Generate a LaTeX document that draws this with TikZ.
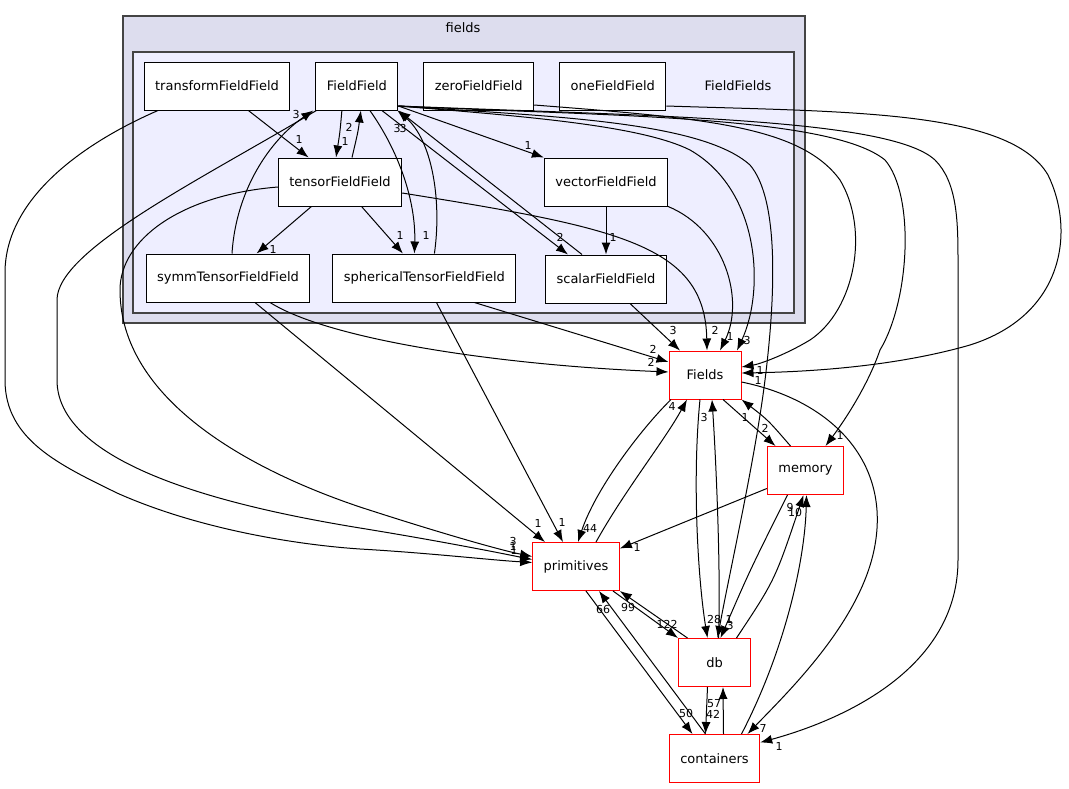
\documentclass[tikz,border=0pt]{standalone}
\usepackage{fontspec}
\setmainfont{DejaVu Sans}
\usetikzlibrary{positioning}
\usetikzlibrary{arrows.meta}
\definecolor{grupoexterior}{HTML}{DDDDEE}
\definecolor{grupointerior}{HTML}{EEEEFF}
\definecolor{bordegrupo}{HTML}{444444}
\tikzset{
 carpeta/.style={
 rectangle,
 draw=black, line width=1pt, fill=white,
 inner xsep=11pt,
 minimum width=72pt,
 minimum height=48pt,
 font=\fontsize{13}{15}\selectfont},
 externa/.style={
 carpeta,
 draw=red},
 grupo/.style={
 draw=bordegrupo, line width=1.3pt},
 dep/.style={
 line width=1pt,
 -{Latex[length=12pt,width=9pt]}},
 cifra/.style={
 font=\fontsize{11}{13}\selectfont,
 inner sep=0pt}
}

\begin{document}
\begin{tikzpicture}[x=1pt,y=-1pt]
 \useasboundingbox (0,0) rectangle (1069,788);

 \filldraw[grupo, fill=grupoexterior] (123,16) rectangle (805,323);
 \filldraw[grupo, fill=grupointerior] (133,52) rectangle (794,313);
 \node[font=\fontsize{13}{15}\selectfont] (fieldsname) at (463,28) {fields};
 \node[font=\fontsize{13}{15}\selectfont] (groupname) at (738,86) {FieldFields};

 \node[carpeta] (trans) at (217,86) {transformFieldField};
 \node[carpeta, right = 25pt of trans] (FF) {FieldField};
 \node[carpeta, right = 25pt of FF] (zero) {zeroFieldField};
 \node[carpeta, right = 25pt of zero] (one) {oneFieldField};

 \node[carpeta] (tensor) at (340,182) {tensorFieldField};
 \node[carpeta] (vector) at (606,182) {vectorFieldField};

 \node[carpeta] (symm) at (228,278) {symmTensorFieldField};
 \node[carpeta, right = 22pt of symm] (sph) {sphericalTensorFieldField};
 \node[carpeta, below = 48pt of vector] (scalar) {scalarFieldField};

 \node[externa] (Fields) at (705,375) {Fields};
 \node[externa] (memory) at (805.5,470.5) {memory};
 \node[externa] (prim) at (576,566.5) {primitives};
 \node[externa] (db) at (714.5,662.5) {db};
 \node[externa, below = 47pt of db] (cont) {containers};

 % inside FieldFields
 \draw[dep] (trans) -- (tensor) node[cifra] (n1) at (299,139) {1};
 \draw[dep] ([xshift=-15pt]FF.south) .. controls (340,132) .. ([xshift=-4pt]tensor.north) node[cifra] (n2) at (345,141) {1};
 \draw[dep] ([xshift=12pt]tensor.north) .. controls (358,132) .. ([xshift=4pt]FF.south) node[cifra] (n3) at (349,127) {2};
 \draw[dep] (tensor) -- (symm) node[cifra] (n4) at (273,249) {1};
 \draw[dep] (tensor) -- (sph) node[cifra] (n5) at (400,235) {1};
 \draw[dep] ([xshift=13pt]FF.south) .. controls (398,150) and (416,200) .. ([xshift=-10pt]sph.north) node[cifra] (n6) at (426,235) {1};
 \draw[dep] ([xshift=10pt]sph.north) .. controls (442,200) and (432,140) .. ([xshift=-1pt]FF.south east) node[cifra] (n7) at (397,128) {3};
 \draw[dep] ([xshift=4pt]symm.north) .. controls (236,190) and (270,140) .. ([xshift=-2pt]FF.south west) node[cifra] (n8) at (296,114) {3};
 \draw[dep] ([xshift=25pt]FF.south) -- ([xshift=-38pt]scalar.north) node[cifra] (n9) at (560,237) {2};
 \draw[dep] ([xshift=-24pt]scalar.north) -- (FF.south east) node[cifra] (n10) at (403,128) {3};
 \draw[dep] ([yshift=-20pt]FF.east) -- (vector.north west) node[cifra] (n11) at (528,145) {1};
 \draw[dep] (vector) -- (scalar) node[cifra] (n12) at (613,237) {1};

 % into Fields
 \draw[dep] ([xshift=24pt]scalar.south) -- ([xshift=-25pt]Fields.north) node[cifra] (n13) at (673,330) {3};
 \draw[dep] ([yshift=-11pt]tensor.east) .. controls (620,228) and (705,245) .. ([xshift=2pt]Fields.north) node[cifra] (n14) at (715,330) {2};
 \draw[dep] (vector.south east) .. controls (725,230) and (745,300) .. ([xshift=15pt]Fields.north) node[cifra] (n15) at (730,336) {1};
 \draw[dep] ([yshift=-20pt]FF.east) .. controls (520,116) and (640,125) .. (690,150) .. controls (760,190) and (765,290) .. ([xshift=32pt]Fields.north) node[cifra] (n16) at (747,340) {3};
 \draw[dep] ([yshift=-19pt]zero.east) .. controls (700,118) and (800,125) .. (840,180) .. controls (870,230) and (855,310) .. (810,340) .. controls (785,355) and (760,364) .. ([yshift=8pt]Fields.east) node[cifra] (n17) at (760,370) {1};
 \draw[dep] ([yshift=-20pt]one.east) .. controls (850,112) and (1010,110) .. (1048,175) .. controls (1075,230) and (1065,315) .. (970,345) .. controls (890,368) and (800,372) .. ([yshift=2pt]Fields.east) node[cifra] (n18) at (758,380) {1};
 \draw[dep] ([xshift=42pt]symm.south) .. controls (330,340) and (500,365) .. ([yshift=3pt]Fields.west) node[cifra] (n19) at (651,362) {2};
 \draw[dep] ([xshift=50pt]sph.south) -- ([yshift=13pt]Fields.west) node[cifra] (n20) at (653,349) {2};

 % FieldField further out
 \draw[dep] ([yshift=-20pt]FF.east) .. controls (540,116) and (700,120) .. (750,165) .. controls (780,200) and (775,300) .. (765,380) .. controls (755,460) and (730,570) .. ([xshift=3pt]db.north) node[cifra] (n21) at (729,619) {1};
 \draw[dep] ([yshift=-20pt]FF.east) .. controls (600,116) and (830,115) .. (885,160) .. controls (915,195) and (910,300) .. (880,350) .. controls (868,385) and (845,420) .. ([xshift=20pt]memory.north) node[cifra] (n22) at (840,435) {1};
 \draw[dep] ([yshift=-20pt]FF.east) .. controls (650,116) and (890,118) .. (935,160) .. controls (957,182) and (958,220) .. (958,260) -- (958,560) .. controls (958,660) and (860,715) .. ([yshift=16pt]cont.east) node[cifra] (n23) at (779,746) {1};

 % into primitives
 \draw[dep] ([xshift=27pt]symm.south) -- ([xshift=-31pt]prim.north) node[cifra] (n24) at (538,523) {1};
 \draw[dep] ([xshift=12pt]sph.south) -- ([xshift=-13pt]prim.north) node[cifra] (n25) at (562,522) {1};
 \draw[dep] ([xshift=-59pt]trans.south) .. controls (90,140) and (5,195) .. (5,273) -- (5,380) .. controls (5,440) and (60,465) .. (117,493) .. controls (200,530) and (300,545) .. (360,549) .. controls (430,553) and (490,560) .. ([yshift=4pt]prim.west) node[cifra] (n26) at (514,550) {1};
 \draw[dep] ([xshift=1pt]FF.south west) .. controls (200,180) and (57,250) .. (57,300) -- (57,380) .. controls (57,470) and (250,510) .. (360,528) .. controls (440,541) and (500,553) .. ([yshift=7pt]prim.west) node[cifra] (n27) at (513,546) {1};
 \draw[dep] ([yshift=-5pt]tensor.west) .. controls (180,195) and (120,240) .. (120,290) .. controls (120,400) and (250,470) .. (360,507) .. controls (440,533) and (500,550) .. ([yshift=10pt]prim.west) node[cifra] (n28) at (513,541) {3};

 % Fields and the other folders
 \draw[dep] ([xshift=-34pt]Fields.south) .. controls (640,430) and (595,490) .. ([xshift=2pt]prim.north) node[cifra] (n29) at (590,528) {44};
 \draw[dep] ([xshift=20pt]prim.north) .. controls (625,490) and (665,440) .. ([xshift=-18pt]Fields.south) node[cifra] (n30) at (672,406) {4};
 \draw[dep] ([xshift=-5pt]Fields.south) .. controls (692,480) and (698,580) .. ([xshift=-7pt]db.north) node[cifra] (n31) at (714,619) {28};
 \draw[dep] ([xshift=4pt]db.north) .. controls (721,570) and (716,460) .. ([xshift=7pt]Fields.south) node[cifra] (n32) at (704,417) {3};
 \draw[dep] ([xshift=18pt]Fields.south) -- ([xshift=-30pt]memory.north) node[cifra] (n33) at (765,428) {2};
 \draw[dep] ([xshift=-15pt]memory.north) .. controls (768,420) .. (Fields.south east) node[cifra] (n34) at (745,417) {1};
 \draw[dep] ([yshift=-7pt]Fields.east) .. controls (830,400) and (890,460) .. (875,545) .. controls (862,620) and (790,690) .. ([xshift=33pt]cont.north) node[cifra] (n35) at (763,728) {7};

 % memory
 \draw[dep] ([yshift=-18pt]memory.west) -- ([yshift=18pt]prim.east) node[cifra] (n36) at (637,547) {1};
 \draw[dep] ([xshift=-18pt]memory.south) .. controls (750,570) .. ([xshift=6pt]db.north) node[cifra] (n37) at (730,625) {3};
 \draw[dep] ([xshift=22pt]db.north) .. controls (775,580) .. ([xshift=-2pt]memory.south) node[cifra] (n38) at (790,507) {9};
 \draw[dep] ([xshift=27pt]cont.north) .. controls (785,650) and (805,560) .. ([xshift=1pt]memory.south) node[cifra] (n39) at (795,512) {10};

 % primitives, db, containers
 \draw[dep] ([xshift=37pt]prim.south) -- (db.north west) node[cifra] (n40) at (667,624) {122};
 \draw[dep] ([xshift=-27pt]db.north) -- (prim.south east) node[cifra] (n41) at (628,607) {99};
 \draw[dep] ([xshift=10pt]prim.south) -- ([xshift=-22pt]cont.north) node[cifra] (n42) at (686,713) {50};
 \draw[dep] ([xshift=-9pt]cont.north) -- ([xshift=23pt]prim.south) node[cifra] (n43) at (603,609) {66};
 \draw[dep] ([xshift=-7pt]db.south) -- ([xshift=-9pt]cont.north) node[cifra] (n44) at (713,714) {42};
 \draw[dep] ([xshift=9pt]cont.north) -- ([xshift=8.5pt]db.south) node[cifra] (n45) at (714,704) {57};
\end{tikzpicture}
\end{document}
